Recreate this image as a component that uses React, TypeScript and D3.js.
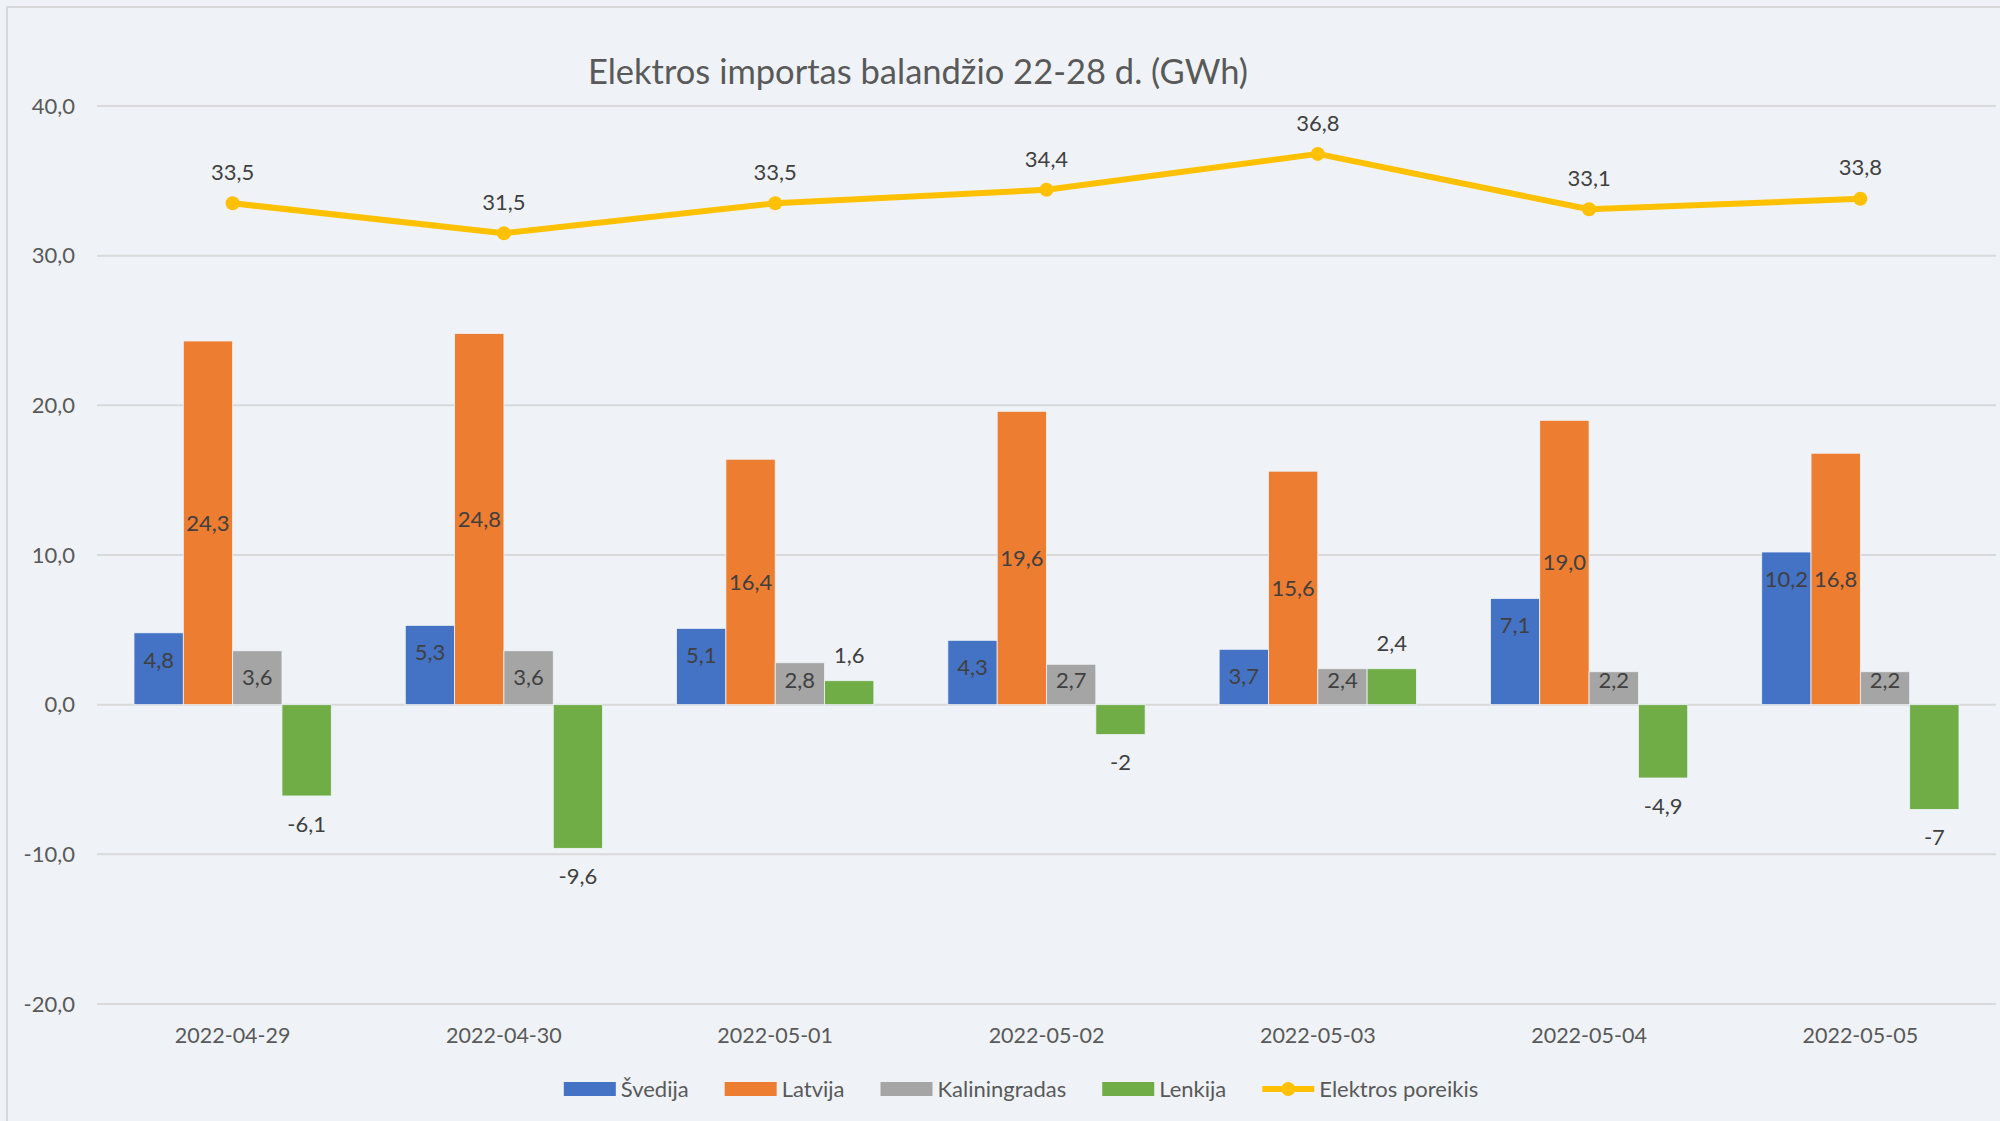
import React from 'react';
import * as d3 from 'd3';

const categories = ['2022-04-29', '2022-04-30', '2022-05-01', '2022-05-02', '2022-05-03', '2022-05-04', '2022-05-05'];
const svedija = [4.8, 5.3, 5.1, 4.3, 3.7, 7.1, 10.2];
const latvija = [24.3, 24.8, 16.4, 19.6, 15.6, 19.0, 16.8];
const kaliningradas = [3.6, 3.6, 2.8, 2.7, 2.4, 2.2, 2.2];
const lenkija = [-6.1, -9.6, 1.6, -2, 2.4, -4.9, -7];
const poreikis = [33.5, 31.5, 33.5, 34.4, 36.8, 33.1, 33.8];
const yTicks = [-20, -10, 0, 10, 20, 30, 40];

const FONT = 'Lato, sans-serif';
const W = 2000;
const H = 1121;

// bar series: label placement mimics the Excel chart
const barSeries = [
  { name: 'Švedija', values: svedija, color: '#4472C4', label: 'insideEnd', fmt: (v: number) => v.toFixed(1).replace('.', ',') },
  { name: 'Latvija', values: latvija, color: '#ED7D31', label: 'center', fmt: (v: number) => v.toFixed(1).replace('.', ',') },
  { name: 'Kaliningradas', values: kaliningradas, color: '#A5A5A5', label: 'insideEnd', fmt: (v: number) => v.toFixed(1).replace('.', ',') },
  { name: 'Lenkija', values: lenkija, color: '#70AD47', label: 'outsideEnd', fmt: (v: number) => String(v).replace('.', ',') },
];
const lineName = 'Elektros poreikis';
const lineColor = '#FFC000';

const measure = (() => {
  let ctx: CanvasRenderingContext2D | null = null;
  return (text: string, size: number) => {
    if (!ctx) ctx = document.createElement('canvas').getContext('2d');
    if (!ctx) return text.length * size * 0.5;
    ctx.font = `${size}px Lato`;
    return ctx.measureText(text).width;
  };
})();

export default function App() {
  const x0 = d3.scaleBand<string>().domain(categories).range([97, 1996]).padding(0);
  const x1 = d3.scaleBand<string>()
    .domain(barSeries.map(s => s.name))
    .range([0, x0.bandwidth()])
    .paddingInner(0)
    .paddingOuter(0.75);
  const y = d3.scaleLinear().domain([-20, 40]).range([1004, 106]);
  const cx = (c: string) => (x0(c) ?? 0) + x0.bandwidth() / 2;

  const line = d3.line<number>()
    .x((_, i) => cx(categories[i]))
    .y(d => y(d));

  const labelSize = 22;
  const fmtTick = (v: number) => v.toFixed(1).replace('.', ',');

  // legend layout, centred
  const legendItems = [...barSeries.map(s => ({ name: s.name, color: s.color, kind: 'bar' })), { name: lineName, color: lineColor, kind: 'line' }];
  const swW = 52, swGap = 5, itemGap = 36;
  const widths = legendItems.map(it => swW + swGap + measure(it.name, labelSize));
  const total = d3.sum(widths) + itemGap * (legendItems.length - 1);
  let lx = 1021 - total / 2;
  const legendPos = widths.map(w => { const p = lx; lx += w + itemGap; return p; });
  const legendY = 1089;

  return (
    <svg width={W} height={H} style={{ position: 'absolute', left: 0, top: 0, display: 'block' }} fontFamily={FONT}>
      <rect x={0} y={0} width={W} height={H} fill="#EFF3F7" />
      <rect x={7} y={7} width={W + 20} height={H + 20} fill="none" stroke="#D9D9D9" strokeWidth={2} />

      <text x={918} y={84} textAnchor="middle" fontSize={34.5} fill="#595959">
        Elektros importas balandžio 22-28 d. (GWh)
      </text>

      {/* gridlines and y ticks */}
      {yTicks.map(t => (
        <g key={t}>
          <line x1={97} x2={1996} y1={y(t)} y2={y(t)} stroke="#D9D9D9" strokeWidth={2} />
          <text x={75} y={y(t)} dy="0.35em" textAnchor="end" fontSize={labelSize} fill="#595959">{fmtTick(t)}</text>
        </g>
      ))}

      {/* bars */}
      {barSeries.map(s => (
        <g key={s.name}>
          {s.values.map((v, i) => {
            const c = categories[i];
            const bx = (x0(c) ?? 0) + (x1(s.name) ?? 0);
            const top = y(Math.max(0, v));
            const bot = y(Math.min(0, v));
            return (
              <rect key={c} x={bx} y={top} width={x1.bandwidth()} height={bot - top} fill={s.color} stroke="#EFF3F7" strokeWidth={0.8} />
            );
          })}
        </g>
      ))}

      {/* bar labels */}
      {barSeries.map(s => (
        <g key={s.name + '-lbl'}>
          {s.values.map((v, i) => {
            const c = categories[i];
            const bx = (x0(c) ?? 0) + (x1(s.name) ?? 0) + x1.bandwidth() / 2;
            let ly: number;
            if (s.label === 'center') ly = (y(v) + y(0)) / 2;
            else if (s.label === 'insideEnd') ly = Math.min(y(v) + 27, y(0) - 24);
            else ly = v >= 0 ? y(v) - 25 : y(v) + 28;
            return (
              <text key={c} x={bx} y={ly} dy="0.35em" textAnchor="middle" fontSize={labelSize} fill="#404040">{s.fmt(v)}</text>
            );
          })}
        </g>
      ))}

      {/* demand line */}
      <path d={line(poreikis) ?? ''} fill="none" stroke={lineColor} strokeWidth={6} strokeLinejoin="round" />
      {poreikis.map((v, i) => (
        <g key={i}>
          <circle cx={cx(categories[i])} cy={y(v)} r={7} fill={lineColor} />
          <text x={cx(categories[i])} y={y(v) - 31} dy="0.35em" textAnchor="middle" fontSize={labelSize} fill="#404040">
            {v.toFixed(1).replace('.', ',')}
          </text>
        </g>
      ))}

      {/* x axis labels */}
      {categories.map(c => (
        <text key={c} x={cx(c)} y={1035} dy="0.35em" textAnchor="middle" fontSize={21.5} fill="#595959">{c}</text>
      ))}

      {/* legend */}
      {legendItems.map((it, i) => (
        <g key={it.name} transform={`translate(${legendPos[i]},${legendY})`}>
          {it.kind === 'bar'
            ? <rect x={0} y={-7} width={swW} height={14} fill={it.color} />
            : <g>
                <line x1={0} x2={swW} y1={0} y2={0} stroke={it.color} strokeWidth={6} />
                <circle cx={swW / 2} cy={0} r={7} fill={it.color} />
              </g>}
          <text x={swW + swGap} y={0} dy="0.35em" fontSize={labelSize} fill="#595959">{it.name}</text>
        </g>
      ))}
    </svg>
  );
}
